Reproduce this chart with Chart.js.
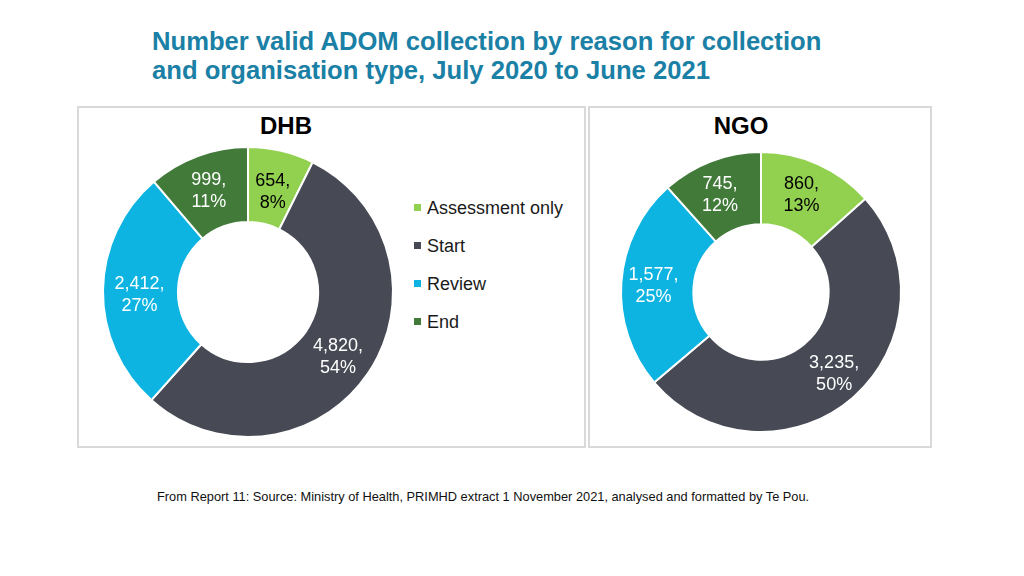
<!DOCTYPE html>
<html>
<head>
<meta charset="utf-8">
<script src="https://cdn.jsdelivr.net/npm/chart.js@4/dist/chart.umd.min.js"></script>
<style>
  html, body { margin:0; padding:0; background:#fff; }
  body { width:1024px; height:576px; position:relative; overflow:hidden; font-family:"Liberation Sans", Arial, sans-serif; }
  .title { position:absolute; left:152px; top:27px; color:#1b80a5; font-family:"Liberation Sans",Arial,sans-serif; font-weight:bold; font-size:26px; line-height:29px; transform:scaleX(0.985); transform-origin:left top; white-space:nowrap; }
  .panel { position:absolute; box-sizing:border-box; border:2px solid #d9d9d9; }
  .ptitle { position:absolute; font-weight:bold; font-size:24px; color:#000; transform:translateX(-50%); }
  canvas { position:absolute; }
  .legend { position:absolute; left:414px; top:196px; font-size:18px; color:#1a1a1a; }
  .legend div { height:38px; line-height:24px; white-space:nowrap; }
  .legend span.sw { display:inline-block; width:7px; height:7px; margin-right:6px; vertical-align:middle; position:relative; top:-2px; }
  .footer { position:absolute; left:157px; top:489px; font-family:"Liberation Sans",Arial,sans-serif; font-size:13px; color:#111; white-space:nowrap; transform:scaleX(0.985); transform-origin:left top; }
</style>
</head>
<body>
<div class="title">Number valid ADOM collection by reason for collection<br>and organisation type, July 2020 to June 2021</div>
<div class="panel" style="left:77px;top:106px;width:509px;height:342px;"></div>
<div class="panel" style="left:588px;top:106px;width:344px;height:342px;"></div>
<div class="ptitle" style="left:286px;top:112px;">DHB</div>
<div class="ptitle" style="left:741px;top:112px;">NGO</div>
<canvas id="dhb" width="300" height="300" style="left:98px;top:142px;"></canvas>
<canvas id="ngo" width="300" height="300" style="left:611px;top:142px;"></canvas>
<div class="legend" id="legend"></div>
<div class="footer">From Report 11: Source: Ministry of Health, PRIMHD extract 1 November 2021, analysed and formatted by Te Pou.</div>
<script>
const categories = ['Assessment only', 'Start', 'Review', 'End'];
const dhbValues = [654, 4820, 2412, 999];
const dhbPercents = [8, 54, 27, 11];
const ngoValues = [860, 3235, 1577, 745];
const ngoPercents = [13, 50, 25, 12];

const sliceColors = ['#92d050', '#474a54', '#0db4e2', '#427a3a'];
const labelColors = ['#000000', '#ffffff', '#ffffff', '#ffffff'];

// legend
const lg = document.getElementById('legend');
categories.forEach((c, i) => {
  const d = document.createElement('div');
  d.innerHTML = '<span class="sw" style="background:' + sliceColors[i] + '"></span>' + c;
  lg.appendChild(d);
});

const sliceLabels = {
  id: 'sliceLabels',
  afterDatasetsDraw(chart, args, opts) {
    const ctx = chart.ctx;
    const meta = chart.getDatasetMeta(0);
    const values = chart.data.datasets[0].data;
    ctx.save();
    ctx.font = '18px "Liberation Sans", Arial, sans-serif';
    ctx.textAlign = 'center';
    ctx.textBaseline = 'middle';
    meta.data.forEach((arc, i) => {
      const p = arc.getProps(['startAngle', 'endAngle', 'innerRadius', 'outerRadius', 'x', 'y'], true);
      const mid = (p.startAngle + p.endAngle) / 2;
      const r = (p.innerRadius + p.outerRadius) / 2;
      const nudge = (opts.nudges && opts.nudges[i]) || [0, 0];
      const cx = p.x + Math.cos(mid) * r + nudge[0];
      const cy = p.y + Math.sin(mid) * r + nudge[1];
      ctx.fillStyle = labelColors[i];
      ctx.fillText(values[i].toLocaleString('en-US') + ',', cx, cy - 11);
      ctx.fillText(opts.percents[i] + '%', cx, cy + 11);
    });
    ctx.restore();
  }
};

function makeChart(id, values, percents, outer, inner, nudges) {
  return new Chart(document.getElementById(id), {
    type: 'doughnut',
    data: {
      labels: categories,
      datasets: [{
        data: values,
        backgroundColor: sliceColors,
        borderColor: '#ffffff',
        borderWidth: 2
      }]
    },
    options: {
      responsive: false,
      animation: false,
      radius: outer,
      cutout: inner,
      layout: { padding: 0 },
      plugins: {
        legend: { display: false },
        tooltip: { enabled: false },
        sliceLabels: { percents: percents, nudges: nudges }
      }
    },
    plugins: [sliceLabels]
  });
}

makeChart('dhb', dhbValues, dhbPercents, 145, 72, [[0, 5], [1, 5], [-1, 4], [-2, 0]]);
makeChart('ngo', ngoValues, ngoPercents, 140, 72, [[-2, -2], [5, 4], [-4, 1], [-4, 0]]);
</script>
</body>
</html>
